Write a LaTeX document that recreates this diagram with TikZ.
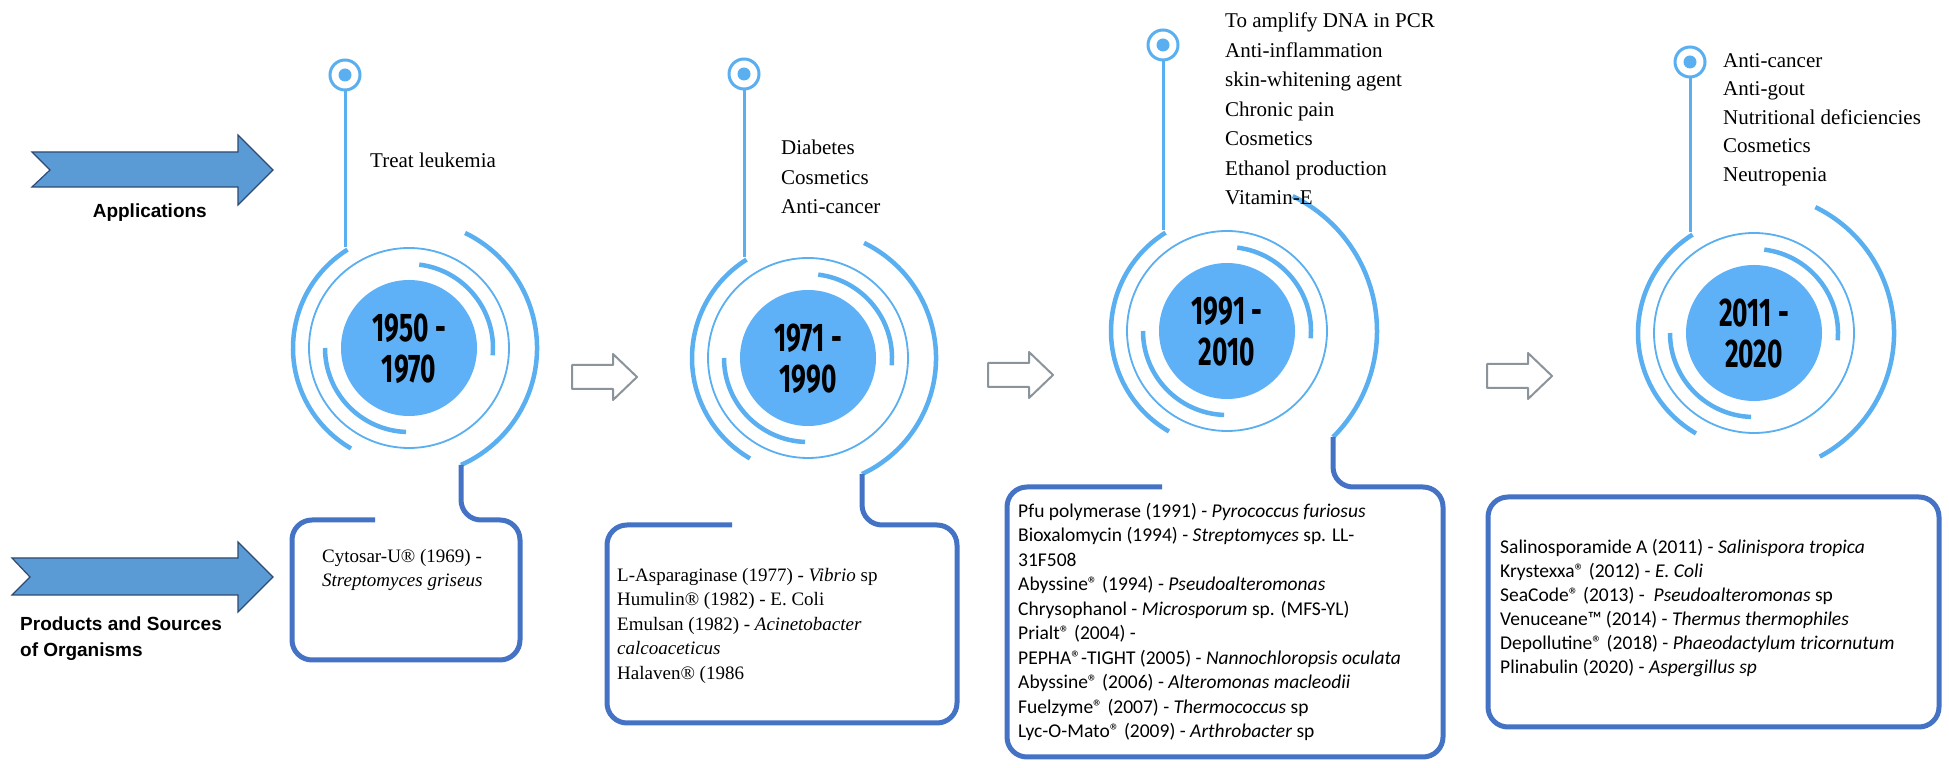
\documentclass[tikz,border=0pt]{standalone}
\usepackage{fontspec}
\setmainfont{Liberation Serif}
\newfontfamily\boxsans{Carlito}
\newfontfamily\lblfont{Liberation Sans}
\newfontfamily\yearfont{Fira Sans}[FakeStretch=0.66]
\definecolor{lblue}{HTML}{5AAFF0}
\definecolor{coreblue}{HTML}{5EB1F7}
\definecolor{boxblue}{HTML}{4472C4}
\definecolor{arrfill}{HTML}{5B9BD5}
\definecolor{arrdraw}{HTML}{2E4A73}
\definecolor{hollow}{HTML}{8C949B}
\tikzset{
  ringline/.style={draw=lblue, line width=1.8},
  arcline/.style={draw=lblue, line width=4.5},
  stemline/.style={draw=lblue, line width=3},
  dotring/.style={circle, draw=lblue, line width=3, minimum size=30, inner sep=0, fill=white},
  yeartext/.style={font=\yearfont\bfseries\fontsize{40}{41}\selectfont, inner sep=0},
  boxline/.style={draw=boxblue, line width=5, rounded corners=20},
  apptext/.style={anchor=north west, align=left, inner sep=0, font=\fontsize{21}{29.5}\selectfont},
  serifbox/.style={anchor=north west, align=left, inner sep=0, font=\fontsize{19}{24.5}\selectfont},
  sansbox/.style={anchor=north west, align=left, inner sep=0, font=\boxsans\fontsize{19.5}{24.5}\selectfont},
  bigarrow/.style={fill=arrfill, draw=arrdraw, line width=1.2},
  hollowarrow/.style={draw=hollow, fill=white, line width=2, line join=round},
  sidelabel/.style={font=\lblfont\bfseries\fontsize{19}{26}\selectfont, inner sep=0}
}
\newcommand\epoch[8]{%
  \coordinate (#1) at (#2,#3);
  \fill[coreblue] (#1) circle[radius=68];
  \draw[ringline] (#1) circle[radius=100];
  \draw[arcline] ([shift={(122:116)}]#1) arc[start angle=122,end angle=240,radius=116];
  \draw[arcline] ([shift={(64:#5)}]#1) arc[start angle=64,end angle=#6,radius=#5];
  \draw[arcline] ([shift={(83:84)}]#1) arc[start angle=83,end angle=-5,radius=84];
  \draw[arcline] ([shift={(180:84)}]#1) arc[start angle=180,end angle=268,radius=84];
  \node[dotring] (#1-dot) at (#2-64,#4) {};
  \fill[lblue] (#1-dot.center) circle[radius=6.5];
  \coordinate (#1-join) at (#2-64,#3+101);
  \draw[stemline] (#1-dot.south) -- (#1-join);
  \coordinate (#1-foot) at ([shift={(#6:#5)}]#1);
  \node[yeartext, anchor=base] (#1-y1) at (#2,#3+6) {#7};
  \node[yeartext, anchor=base] (#1-y2) at (#2,#3-35) {#8};
}
\newcommand\hollowarr[3]{%
  \draw[hollowarrow] (#2,#3-12) -- (#2+41,#3-12) -- (#2+41,#3-23) -- (#2+65,#3)
    -- (#2+41,#3+23) -- (#2+41,#3+12) -- (#2,#3+12) -- cycle;
  \coordinate (#1) at (#2+32,#3);
}
\begin{document}
\begin{tikzpicture}[x=1pt,y=1pt]
\useasboundingbox (0,0) rectangle (1949,768);
\fill[white] (0,0) rectangle (1949,768);

% side arrows and labels
\draw[bigarrow] (32,616) -- (238,616) -- (238,633) -- (273,598) -- (238,563) -- (238,581) -- (32,581) -- (50,598) -- cycle;
\node[sidelabel, anchor=base east] (applbl) at (207,550) {Applications};
\draw[bigarrow] (12,210) -- (238,210) -- (238,226) -- (273,191) -- (238,156) -- (238,173) -- (12,173) -- (30,191) -- cycle;
\node[sidelabel, anchor=north west, align=left] (prodlbl) at (20,151) {Products and Sources\\of Organisms};

% epochs
\epoch{c1}{409}{420}{693}{128}{-66}{1950 -}{1970}
\epoch{c2}{808}{410}{694}{128}{-65}{1971 -}{1990}
\epoch{c3}{1227}{437}{723}{150}{-45}{1991 -}{2010}
\epoch{c4}{1754}{435}{706}{140}{-62}{2011 -}{2020}

% applications texts
\node[apptext] (a1) at (370,615) {Treat leukemia};
\node[apptext] (a2) at (781,628) {Diabetes\\Cosmetics\\Anti-cancer};
\node[apptext] (a3) at (1225,755) {To amplify DNA in PCR\\Anti-inflammation\\skin-whitening agent\\Chronic pain\\Cosmetics\\Ethanol production\\Vitamin-E};
\node[apptext, font=\fontsize{21}{28.5}\selectfont] (a4) at (1723,715) {Anti-cancer\\Anti-gout\\Nutritional deficiencies\\Cosmetics\\Neutropenia};

% hollow arrows
\hollowarr{h1}{572}{391}
\hollowarr{h2}{988}{393}
\hollowarr{h3}{1487}{392}

% boxes
\draw[boxline] (375,248) -- (292,248) -- (292,108) -- (520,108) -- (520,248) -- (461,248) -- (c1-foot);
\draw[boxline] (732,243) -- (607,243) -- (607,45) -- (957,45) -- (957,243) -- (862,243) -- (c2-foot);
\draw[boxline] (1162,281) -- (1007,281) -- (1007,11) -- (1443,11) -- (1443,281) -- (1333,281) -- (c3-foot);
\draw[boxline] (1488,271) rectangle (1939,41);

% box texts
\node[serifbox] (b1) at (322,219) {Cytosar-U® (1969) -\\\textit{Streptomyces griseus}};
\node[serifbox] (b2) at (617,200) {L-Asparaginase (1977) - \textit{Vibrio} sp\\Humulin® (1982) - E. Coli\\Emulsan (1982) - \textit{Acinetobacter}\\\textit{calcoaceticus}\\Halaven® (1986};
\node[sansbox] (b3) at (1018,265) {Pfu polymerase (1991) - \textit{Pyrococcus furiosus}\\Bioxalomycin (1994) - \textit{Streptomyces} sp. LL-\\31F508\\Abyssine® (1994) - \textit{Pseudoalteromonas}\\Chrysophanol - \textit{Microsporum} sp. (MFS-YL)\\Prialt® (2004) -\\PEPHA®-TIGHT (2005) - \textit{Nannochloropsis oculata}\\Abyssine® (2006) - \textit{Alteromonas macleodii}\\Fuelzyme® (2007) - \textit{Thermococcus} sp\\Lyc-O-Mato® (2009) - \textit{Arthrobacter} sp};
\node[sansbox, font=\boxsans\fontsize{19.5}{24}\selectfont] (b4) at (1500,229) {Salinosporamide A (2011) - \textit{Salinispora tropica}\\Krystexxa® (2012) - \textit{E. Coli}\\SeaCode® (2013) - \ \textit{Pseudoalteromonas} sp\\Venuceane™ (2014) - \textit{Thermus thermophiles}\\Depollutine® (2018) - \textit{Phaeodactylum tricornutum}\\Plinabulin (2020) - \textit{Aspergillus sp}};
\end{tikzpicture}
\end{document}
